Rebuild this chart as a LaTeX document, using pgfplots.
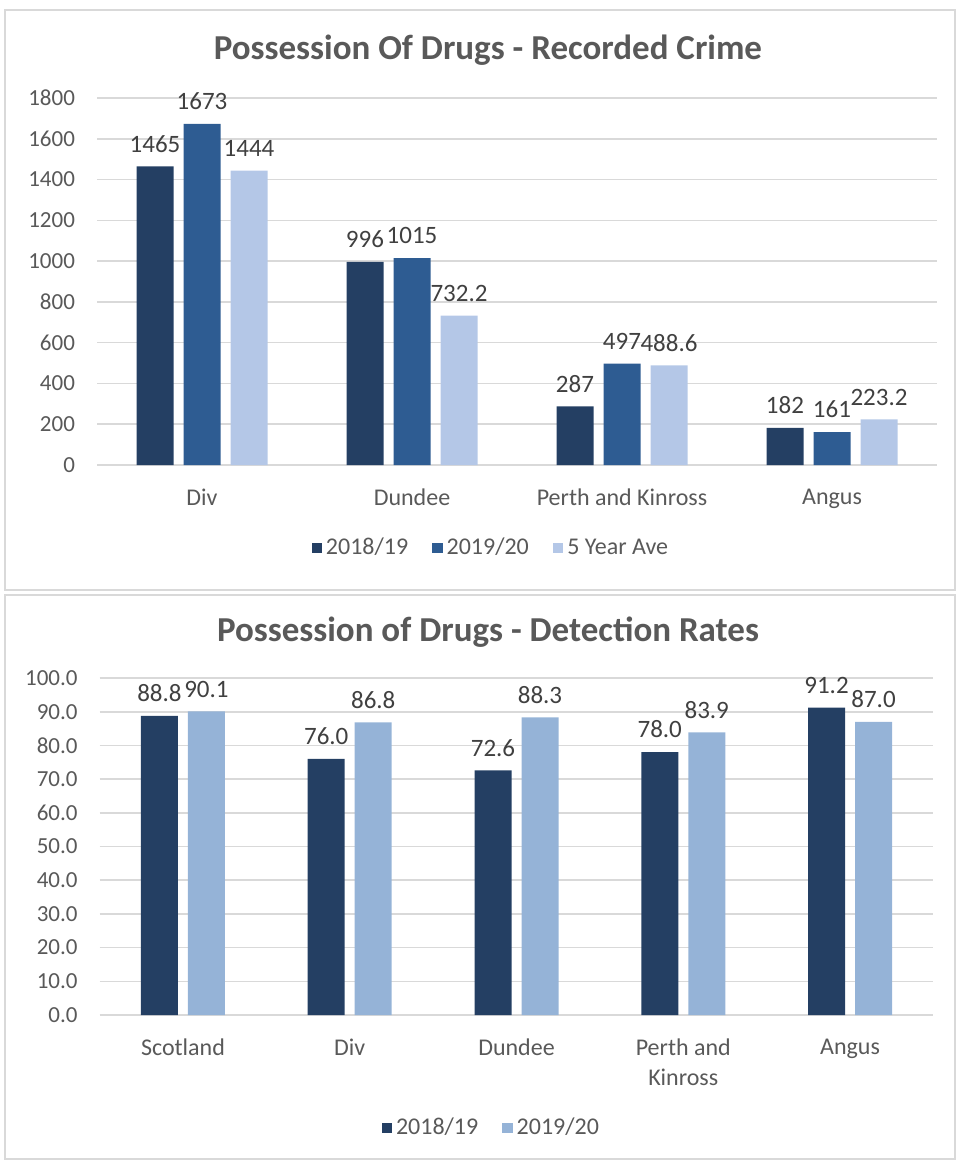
\documentclass[border=0pt]{standalone}
\usepackage{pgfplots}
\pgfplotsset{compat=1.18}
\usepackage{fontspec}
\setmainfont{Carlito}
\definecolor{cA}{HTML}{243F63}
\definecolor{cB}{HTML}{2E5C92}
\definecolor{cC}{HTML}{B4C7E7}
\definecolor{cD}{HTML}{95B3D7}
\definecolor{gridgray}{HTML}{D9D9D9}
\definecolor{txtgray}{HTML}{595959}
\definecolor{lblgray}{HTML}{404040}
\pgfplotsset{
  common/.style={
    scale only axis,
    anchor=south west,
    axis line style={draw=none},
    tick style={draw=none},
    major tick length=0pt,
    ymajorgrids, grid style={gridgray, line width=0.8pt},
    xtick=data,
    ticklabel style={text=txtgray},
    yticklabel style={font=\fontsize{11.5}{13}\selectfont, xshift=-7.5pt},
    xticklabel style={font=\fontsize{12}{15}\selectfont, yshift=-8.5pt, align=center},
    /pgf/number format/assume math mode=true,
    /pgf/number format/1000 sep={},
    nodes near coords,
    every node near coord/.append style={font=\fontsize{12.5}{14}\selectfont, text=lblgray, yshift=3.5pt},
    legend columns=-1,
    legend style={draw=none, fill=none, font=\fontsize{12}{14}\selectfont, text=txtgray,
      /tikz/every even column/.append style={column sep=10pt}},
  },
  sq/.style={draw=none, fill=#1,
    legend image code/.code={\fill[#1] (0pt,-2.6pt) rectangle (5.2pt,2.6pt);}},
}
\begin{document}
\begin{tikzpicture}
\path[use as bounding box] (0pt,0pt) rectangle (478.5pt,-580pt);
\draw[gridgray, line width=1pt] (2.5pt,-5pt) rectangle (477.5pt,-295pt);
\draw[gridgray, line width=1pt] (2.5pt,-297.5pt) rectangle (477.5pt,-579.5pt);
\node[font=\fontsize{17.5}{20}\selectfont\bfseries, text=txtgray] at (244pt,-25pt) {Possession Of Drugs - Recorded Crime};
\node[font=\fontsize{17.5}{20}\selectfont\bfseries, text=txtgray] at (244pt,-316pt) {Possession of Drugs - Detection Rates};

\begin{axis}[common,
  at={(48.5pt,-232.5pt)},
  width=420pt, height=183.5pt,
  ybar=5pt, bar width=18.5pt,
  xmin=-0.5, xmax=3.5, ymin=0, ymax=1800,
  ytick={0,200,...,1800},
  xticklabels={Div,Dundee,Perth and Kinross,Angus},
  legend style={at={(0.47,-0.226)}, anchor=center},
]
\addplot[sq=cA] coordinates {(0,1465) (1,996) (2,287) (3,182)};
\addplot[sq=cB] coordinates {(0,1673) (1,1015) (2,497) (3,161)};
\addplot[sq=cC] coordinates {(0,1444) (1,732.2) (2,488.6) (3,223.2)};
\legend{2018/19,2019/20,5 Year Ave}
\end{axis}

\begin{axis}[common,
  at={(49.8pt,-507.5pt)},
  width=416.9pt, height=168.5pt,
  ybar=5pt, bar width=18.5pt,
  xmin=-0.5, xmax=4.5, ymin=0, ymax=100,
  ytick={0,10,...,100},
  yticklabel style={/pgf/number format/.cd, fixed, fixed zerofill, precision=1},
  nodes near coords style={/pgf/number format/.cd, fixed, fixed zerofill, precision=1},
  xticklabels={Scotland,Div,Dundee,{Perth and\\Kinross},Angus},
  legend style={at={(0.471,-0.335)}, anchor=center},
]
\addplot[sq=cA] coordinates {(0,88.8) (1,76.0) (2,72.6) (3,78.0) (4,91.2)};
\addplot[sq=cD] coordinates {(0,90.1) (1,86.8) (2,88.3) (3,83.9) (4,87.0)};
\legend{2018/19,2019/20}
\end{axis}
\end{tikzpicture}
\end{document}
